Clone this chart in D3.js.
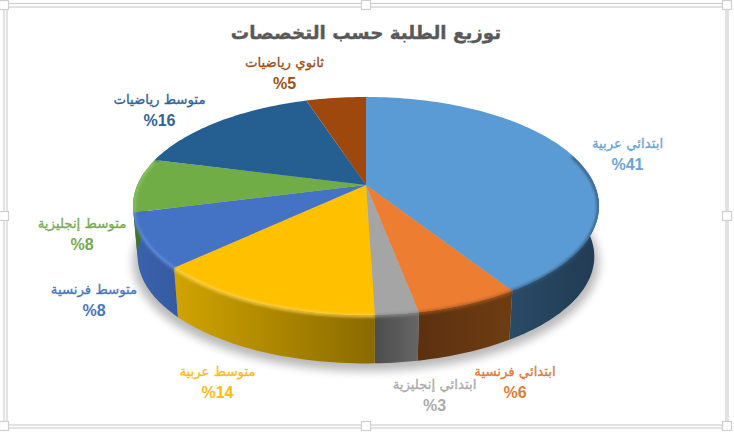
<!DOCTYPE html>
<html><head><meta charset="utf-8">
<script src="https://cdnjs.cloudflare.com/ajax/libs/d3/7.8.5/d3.min.js"></script>
<style>html,body{margin:0;padding:0;background:#fff}svg{display:block}</style></head>
<body><svg id="c" width="734" height="434"></svg>
<script>
const titleText = "توزيع الطلبة حسب التخصصات";
const categories = ["ابتدائي عربية","ابتدائي فرنسية","ابتدائي إنجليزية","متوسط عربية","متوسط فرنسية","متوسط إنجليزية","متوسط رياضيات","ثانوي رياضيات"];
const sliceValues = [41,6,2.5,13.5,8,8,16,5];
const percentLabels = ["%41","%6","%3","%14","%8","%8","%16","%5"];
const topColors = ["#5b9bd5","#ed7d31","#a5a5a5","#ffc000","#4472c4","#70ad47","#255e91","#9e480e"];
const labelColors = ["#6ea3d6","#e07b35","#aaaaaa","#fcbc14","#4a74bf","#74ab4e","#2f6396","#a04f16"];
const bevelColors = ["#2f5578","#a8581f","#8e8e8e","#ffd44f","#5f8ce0","#8cc765","#255e91","#9e480e"];
const wallStops = [["#2a4a66","#213b52"],["#5c3010","#6e3d12"],["#4c4c4c","#666666"],["#d0a400","#8a6a00"],["#3a63ae","#355a9e"],["#44702a","#44702a"],["#255e91","#255e91"],["#9e480e","#9e480e"]];
const labelPos = [[627.5,148],[515,376],[434.5,389],[217.5,376],[94,294],[82,228],[159.5,104],[284.5,67]];

const svg = d3.select("#c");
const defs = svg.append("defs");
const cx=366, cy=185, A=228.6, B=105, K=0.1926, DEPTH=51, SHRINK=0.98;
const rim=(t,s=1,dy=0)=>{const x=Math.sin(t),y=-Math.cos(t),w=1-K*y;
  return [cx+s*A*x/w, cy+dy+s*B*y/w];};
const arcs=d3.pie().sort(null).value(d=>d)(sliceValues);
const pts=(a,b,s,dy)=>{const n=Math.max(2,Math.ceil((b-a)*40));return d3.range(n+1).map(i=>rim(a+(b-a)*i/n,s,dy));};
const line=d3.line();

const f1=defs.append("filter").attr("id","sh").attr("x","-20%").attr("y","-20%").attr("width","140%").attr("height","140%");
f1.append("feGaussianBlur").attr("stdDeviation",5);
const f2=defs.append("filter").attr("id","bl").attr("filterUnits","userSpaceOnUse").attr("x",0).attr("y",0).attr("width",734).attr("height",434);
f2.append("feGaussianBlur").attr("stdDeviation",1.6);

// selection frame
const fr=svg.append("g").attr("fill","none").attr("stroke","#cfcfcf").attr("stroke-width",1.2);
fr.append("rect").attr("x",4).attr("y",3.5).attr("width",724).attr("height",424.5);
fr.append("rect").attr("x",7).attr("y",7).attr("width",719).attr("height",418);
[[4,5],[366,5],[727,5],[4,216],[727,216],[4,426],[366,426],[727,426]].forEach(([x,y])=>{
  fr.append("rect").attr("x",x-4.5).attr("y",y-4.5).attr("width",9).attr("height",9).attr("fill","#fff");
});

// shadow
svg.append("path").attr("d",line(pts(0,2*Math.PI,1.0,DEPTH+5))+"Z").attr("fill","#000").attr("opacity",.28).attr("filter","url(#sh)");

// walls
const grp=svg.append("g");
const clip=defs.append("clipPath").attr("id","body");
clip.append("path").attr("d",line(pts(0,2*Math.PI,1,0))+"Z");
arcs.forEach((d,i)=>{
  const a=Math.max(d.startAngle,Math.PI/2-.12), b=Math.min(d.endAngle,3*Math.PI/2+.12);
  if(b<=a) return;
  const top=pts(a,b,1,0), bot=pts(a,b,SHRINK,DEPTH).reverse();
  const xs=top.concat(bot).map(p=>p[0]);
  const g=defs.append("linearGradient").attr("id","w"+i).attr("gradientUnits","userSpaceOnUse")
    .attr("x1",d3.min(xs)).attr("x2",d3.max(xs)).attr("y1",0).attr("y2",0);
  g.append("stop").attr("offset",0).attr("stop-color",wallStops[i][0]);
  g.append("stop").attr("offset",1).attr("stop-color",wallStops[i][1]);
  grp.append("path").attr("d",line(top.concat(bot))+"Z").attr("fill",`url(#w${i})`);
  clip.append("path").attr("d",line(top.concat(bot))+"Z");
});

// top faces
arcs.forEach((d,i)=>{
  svg.append("path").attr("d",line([[cx,cy]].concat(pts(d.startAngle,d.endAngle,1,0)))+"Z").attr("fill",topColors[i]);
});
// bevel along the rim, kept inside the body
const bev=svg.append("g").attr("clip-path","url(#body)");
arcs.forEach((d,i)=>{
  const a=Math.max(d.startAngle,Math.PI/2-.3), b=Math.min(d.endAngle,3*Math.PI/2+.3);
  if(b<=a) return;
  bev.append("path").attr("d",line(pts(a,b,0.997,1))).attr("fill","none").attr("stroke",bevelColors[i]).attr("stroke-width",2.6).attr("filter","url(#bl)");
});

// title
svg.append("text").attr("x",366).attr("y",39).attr("text-anchor","middle").attr("direction","rtl")
  .attr("font-family","DejaVu Sans").attr("font-weight","bold").attr("font-size",18.3).attr("fill","#595959")
  .attr("stroke","#595959").attr("stroke-width",.35).text(titleText);

// labels
categories.forEach((c,i)=>{
  const [x,y]=labelPos[i];
  svg.append("text").attr("x",x).attr("y",y).attr("text-anchor","middle").attr("direction","rtl")
    .attr("font-family","DejaVu Sans").attr("font-size",13.3).attr("fill",labelColors[i])
    .attr("stroke",labelColors[i]).attr("stroke-width",.3).text(c);
  svg.append("text").attr("x",x).attr("y",y+22).attr("text-anchor","middle")
    .attr("font-family","Liberation Sans").attr("font-weight","bold").attr("font-size",16).attr("fill",labelColors[i]).text(percentLabels[i]);
});
</script></body></html>
